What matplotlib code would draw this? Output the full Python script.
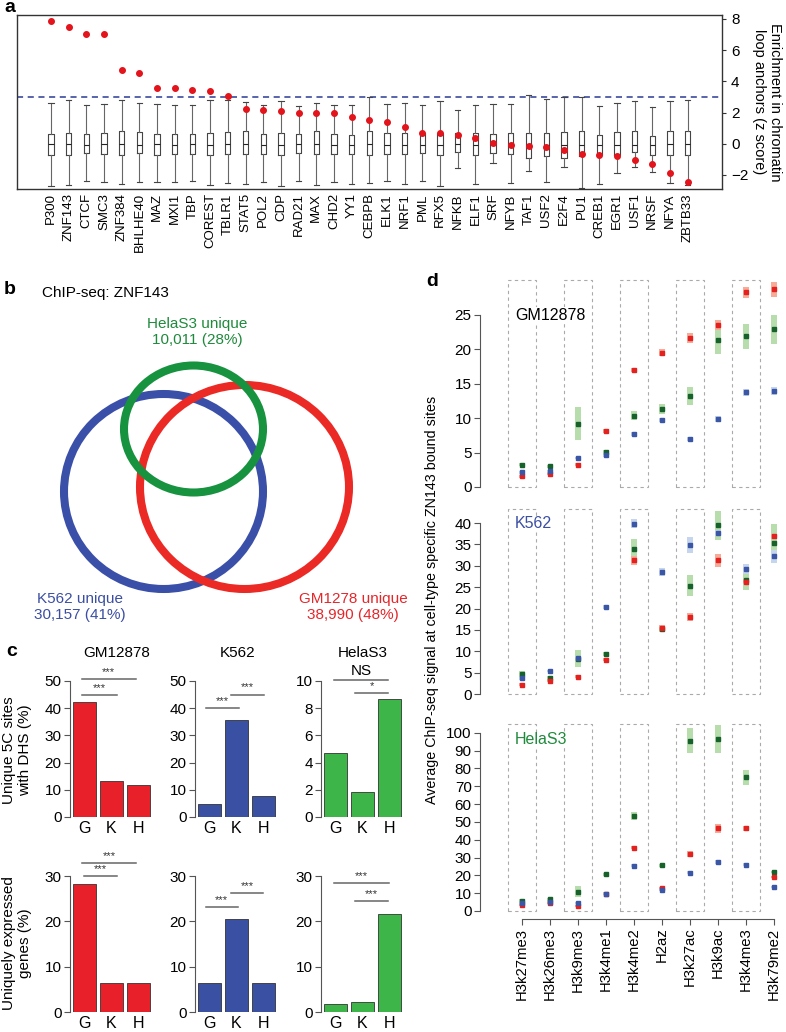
import matplotlib
matplotlib.use("Agg")
import matplotlib.pyplot as plt
from matplotlib.patches import Ellipse, Rectangle
import numpy as np

plt.rcParams['font.family'] = ['Liberation Sans', 'DejaVu Sans']

W, H = 786, 1032

# ---- panel a data: z scores + box stats per factor
factors = ["P300", "ZNF143", "CTCF", "SMC3", "ZNF384", "BHLHE40", "MAZ", "MXI1", "TBP",
           "COREST", "TBLR1", "STAT5", "POL2", "CDP", "RAD21", "MAX", "CHD2", "YY1",
           "CEBPB", "ELK1", "NRF1", "PML", "RFX5", "NFKB", "ELF1", "SRF", "NFYB", "TAF1",
           "USF2", "E2F4", "PU1", "CREB1", "EGR1", "USF1", "NRSF", "NFYA", "ZBTB33"]
zscore = [7.84, 7.48, 7.05, 7.02, 4.72, 4.51, 3.57, 3.55, 3.42, 3.37, 3.05, 2.2, 2.16,
          2.07, 2.0, 2.0, 1.96, 1.69, 1.52, 1.41, 1.05, 0.68, 0.68, 0.53, 0.38, 0.02,
          -0.1, -0.13, -0.23, -0.4, -0.66, -0.73, -0.79, -1.05, -1.32, -1.88, -2.48]
q1 = [-0.75, -0.73, -0.6, -0.66, -0.7, -0.6, -0.73, -0.66, -0.68, -0.75, -0.64, -0.66,
      -0.66, -0.73, -0.6, -0.64, -0.66, -0.66, -0.7, -0.66, -0.64, -0.62, -0.73, -0.51,
      -0.7, -0.6, -0.64, -0.92, -0.81, -0.92, -0.77, -0.73, -0.75, -0.56, -0.7, -0.7, -0.73]
q3 = [0.62, 0.68, 0.62, 0.68, 0.79, 0.73, 0.62, 0.62, 0.6, 0.68, 0.75, 0.79, 0.62, 0.68,
      0.62, 0.79, 0.62, 0.58, 0.79, 0.66, 0.68, 0.68, 0.68, 0.68, 0.68, 0.64, 0.68, 0.68,
      0.68, 0.77, 0.79, 0.56, 0.73, 0.83, 0.51, 0.79, 0.79]
med = [0.0, 0.0, -0.05, 0.0, 0.0, -0.05, 0.0, -0.05, 0.0, -0.05, 0.0, 0.0, -0.05, -0.05,
       0.0, 0.0, -0.05, -0.05, 0.0, -0.05, -0.05, -0.05, -0.1, 0.0, -0.1, 0.0, -0.05,
       -0.1, -0.05, -0.05, -0.1, -0.1, -0.05, -0.1, -0.1, 0.0, 0.0]
wlo = [-2.73, -2.67, -2.41, -2.48, -2.56, -2.48, -2.48, -2.44, -2.37, -2.63, -2.52, -2.59,
       -2.48, -2.69, -2.41, -2.63, -2.48, -2.56, -2.52, -2.41, -2.56, -2.41, -2.73, -1.56,
       -2.56, -1.24, -2.52, -1.77, -2.48, -1.5, -2.84, -2.56, -1.88, -1.5, -1.84, -2.52, -2.65]
whi = [2.63, 2.82, 2.46, 2.54, 2.82, 2.63, 2.54, 2.46, 2.46, 2.78, 2.82, 2.69, 2.46, 2.71,
       2.39, 2.63, 2.46, 2.46, 3.01, 2.54, 2.6, 2.5, 2.76, 2.16, 2.48, 2.54, 2.54, 3.14,
       2.88, 3.01, 3.01, 2.39, 2.6, 2.76, 2.35, 2.76, 2.82]
threshold = 3

# ---- panel b data
venn_names = ["HelaS3 unique", "K562 unique", "GM1278 unique"]
venn_counts = [10011, 30157, 38990]
venn_pcts = [28, 41, 48]

# ---- panel c data
cells = ["GM12878", "K562", "HelaS3"]
groups = ["G", "K", "H"]
dhs = [[42.1, 13.4, 11.9], [4.8, 35.8, 7.7], [4.68, 1.81, 8.68]]
expr = [[28.2, 6.5, 6.3], [6.3, 20.5, 6.5], [1.84, 2.28, 21.7]]
dhs_sig = [[(0, 2, "***"), (0, 1, "***")], [(0, 1, "***"), (1, 2, "***")],
           [(0, 2, "NS"), (1, 2, "*")]]
expr_sig = [[(0, 2, "***"), (0, 1, "***")], [(0, 1, "***"), (1, 2, "***")],
            [(0, 2, "***"), (1, 2, "***")]]

# ---- panel d data
marks = ["H3k27me3", "H3k26me3", "H3k9me3", "H3k4me1", "H3k4me2", "H2az",
         "H3k27ac", "H3k9ac", "H3k4me3", "H3k79me2"]
gm_red = [1.55, 1.9, 3.24, 8.12, 16.97, 19.49, 21.66, 23.5, 28.29, 28.72]
gm_blue = [2.13, 2.27, 4.2, 4.64, 7.69, 9.67, 6.96, 9.86, 13.78, 13.97]
gm_green = [3.24, 3.0, 9.19, 5.13, 10.35, 11.36, 13.2, 21.37, 21.86, 22.92]
gm_red_err = [0.2, 0.2, 0.2, 0.3, 0.3, 0.5, 0.75, 0.75, 0.8, 1.1]
gm_blue_err = [0.2, 0.2, 0.2, 0.3, 0.3, 0.3, 0.3, 0.4, 0.5, 0.6]
gm_green_err = [0.2, 0.2, 2.4, 0.3, 0.65, 0.75, 1.3, 2.0, 1.75, 2.1]

k_red = [2.18, 3.11, 4.05, 8.02, 31.28, 15.35, 18.05, 31.28, 26.3, 36.96]
k_blue = [3.66, 5.37, 8.4, 20.39, 39.84, 28.48, 34.94, 37.67, 29.26, 32.2]
k_green = [4.67, 3.74, 8.3, 9.42, 34.0, 15.2, 25.37, 39.45, 26.6, 35.4]
k_red_err = [0.3, 0.3, 0.3, 0.3, 1.1, 0.7, 0.9, 1.6, 0.6, 0.6]
k_blue_err = [0.3, 0.3, 0.3, 0.4, 1.1, 0.9, 1.9, 0.6, 1.1, 1.6]
k_green_err = [0.7, 0.4, 1.95, 0.5, 2.3, 0.7, 2.45, 3.3, 2.15, 4.5]

h_red = [3.4, 4.3, 3.0, 9.45, 35.5, 12.85, 31.8, 46.5, 46.3, 19.1]
h_blue = [4.3, 5.3, 4.3, 9.8, 25.5, 11.9, 21.55, 27.4, 25.9, 13.6]
h_green = [5.67, 6.6, 10.8, 20.6, 53.1, 25.7, 95.6, 96.5, 74.9, 21.9]
h_red_err = [0.5, 0.5, 0.5, 0.6, 1.0, 0.8, 1.7, 2.5, 1.5, 0.8]
h_blue_err = [0.5, 0.5, 0.5, 0.6, 0.8, 0.6, 0.8, 1.2, 0.8, 0.6]
h_green_err = [0.8, 0.8, 3.0, 0.8, 2.3, 0.8, 6.9, 8.0, 4.3, 0.8]

RED, BLUE, GREEN = "#e8202a", "#3a51a3", "#3db549"
TXT_GREEN = "#1f8a3c"


def px_axes(fig, x0, y0, x1, y1):
    # axes placed by pixel box (top-left origin)
    return fig.add_axes([x0 / W, 1 - y1 / H, (x1 - x0) / W, (y1 - y0) / H])


def ftext(fig, x, y, s, **kw):
    fig.text(x / W, 1 - y / H, s, **kw)


fig = plt.figure(figsize=(W / 100, H / 100), dpi=100)

# ================= panel a
ax = px_axes(fig, 17, 15, 722, 189)
stats = [dict(med=med[i], q1=q1[i], q3=q3[i], whislo=wlo[i], whishi=whi[i], fliers=[])
         for i in range(len(factors))]
pos = np.arange(len(factors))
ax.bxp(stats, positions=pos, widths=0.3, capwidths=0.3, showfliers=False,
       boxprops=dict(color="#444444", lw=0.8), whiskerprops=dict(color="#666666", lw=0.8),
       capprops=dict(color="#444444", lw=0.8), medianprops=dict(color="#222222", lw=0.8))
ax.axhline(threshold, color="#2a3a96", lw=1.1, ls=(0, (4, 3)), zorder=1)
ax.plot(pos, zscore, "o", color="#e3141b", ms=4, zorder=5)
ax.set_xlim(-1.92, 37.94)
ax.set_ylim(-2.9, 8.25)
ax.set_xticks(pos)
ax.set_xticklabels(factors, rotation=90, fontsize=9.5)
ax.tick_params(axis="x", length=0, pad=3)
ax.yaxis.tick_right()
ax.yaxis.set_label_position("right")
ax.set_yticks([-2, 0, 2, 4, 6, 8])
ax.tick_params(axis="y", labelsize=11, length=3, color="#333333")
ax.set_ylabel("Enrichment in chromatin\nloop anchors (z score)", rotation=270,
              fontsize=10.5, labelpad=24)
for s in ax.spines.values():
    s.set_color("#333333")
    s.set_linewidth(1)

# ================= panel b
axb = px_axes(fig, 0, 280, 410, 640)
axb.set_xlim(0, 410)
axb.set_ylim(640, 280)
axb.axis("off")
axb.add_patch(Ellipse((163.5, 491.5), 199, 195, fill=False, ec="#3a4fa8", lw=5.8))
axb.add_patch(Ellipse((244.5, 487), 209, 204, fill=False, ec="#ec2a25", lw=5.8))
axb.add_patch(Ellipse((193.5, 429), 139, 127, fill=False, ec="#17923f", lw=5.8))
venn_colors = [TXT_GREEN, "#3b4ea3", "#e5262a"]
venn_xy = [(197, 332), (80, 607), (353, 607)]
for name, n, p, c, (x, y) in zip(venn_names, venn_counts, venn_pcts, venn_colors, venn_xy):
    ftext(fig, x, y, f"{name}\n{n:,} ({p}%)", color=c, fontsize=11,
          ha="center", va="center", linespacing=1.15)
ftext(fig, 42, 293, "ChIP-seq: ZNF143", fontsize=11, va="center")

# ================= panel c
bar_colors = [RED, BLUE, GREEN]
col_left = [70, 195, 321]
title_x = [117, 238, 363]
rows = [(dhs, dhs_sig, 681, 817, [50, 50, 10]), (expr, expr_sig, 876, 1012, [30, 30, 30])]
# bracket layout per panel: (x0, x1, height as fraction of ylim top)
brackets = [
    [[(-0.1, 1.9, 1.012), (-0.1, 1.21, 0.894)],
     [(-0.15, 1.09, 0.80), (0.79, 2.02, 0.90)],
     [(-0.04, 1.96, 1.01), (0.71, 1.96, 0.91)]],
    [[(-0.09, 1.91, 1.093), (-0.02, 1.21, 1.0)],
     [(-0.15, 1.06, 0.773), (0.79, 1.99, 0.873)],
     [(-0.04, 1.98, 0.95), (0.71, 1.96, 0.813)]],
]
for r, (vals, sigs, top, bot, ymax) in enumerate(rows):
    for c in range(3):
        axc = px_axes(fig, col_left[c], top, col_left[c] + 82, bot)
        axc.bar(range(3), vals[c], width=0.84, color=bar_colors[c], ec="#333333", lw=0.6)
        axc.set_xlim(-0.54, 2.5)
        axc.set_ylim(0, ymax[c])
        step = 2 if ymax[c] == 10 else 10
        axc.set_yticks(np.arange(0, ymax[c] + 0.1, step))
        axc.set_xticks(range(3))
        axc.set_xticklabels(groups, fontsize=11.5)
        axc.tick_params(axis="x", length=0, pad=3)
        axc.tick_params(axis="y", labelsize=11, length=4, pad=2, color="#555555")
        for s in ["top", "right", "bottom"]:
            axc.spines[s].set_visible(False)
        axc.spines["left"].set_color("#555555")
        for (i, j, lab), (x0, x1, fh) in zip(sigs[c], brackets[r][c]):
            yb = fh * ymax[c]
            axc.plot([x0, x1], [yb, yb], color="#666666", lw=1.1, clip_on=False)
            fs = 11 if lab == "NS" else 8
            axc.text((x0 + x1) / 2, yb + ymax[c] * 0.015, lab, ha="center", va="bottom",
                     fontsize=fs, color="#333333" if lab != "NS" else "black", clip_on=False)
        if r == 0:
            ftext(fig, title_x[c], 653, cells[c], fontsize=11, ha="center", va="center")
ftext(fig, 17, 750, "Unique 5C sites\nwith DHS (%)", fontsize=11, rotation=90,
      ha="center", va="center", multialignment="center")
ftext(fig, 17, 943, "Uniquely expressed\ngenes (%)", fontsize=11, rotation=90,
      ha="center", va="center", multialignment="center")

# ================= panel d
panels_d = [
    ("GM12878", "black", (277, 487), 30.5, 25, 5, 30,
     (gm_red, gm_red_err), (gm_blue, gm_blue_err), (gm_green, gm_green_err)),
    ("K562", "#3b4ea3", (506, 694), 44, 40, 5, 43.4,
     (k_red, k_red_err), (k_blue, k_blue_err), (k_green, k_green_err)),
    ("HelaS3", TXT_GREEN, (722, 911), 106, 100, 10, 105,
     (h_red, h_red_err), (h_blue, h_blue_err), (h_green, h_green_err)),
]
xm = np.arange(len(marks))
for k, (lab, lc, (t, b), ytop, ymaxtick, ystep, boxtop, red, blue, green) in enumerate(panels_d):
    axd = px_axes(fig, 480, t, 786, b)
    axd.set_xlim(-1.5, 9.43)
    axd.set_ylim(0, ytop)
    for i in range(0, len(marks), 2):
        axd.add_patch(Rectangle((i - 0.5, 0), 1, boxtop, fill=False, ec="#aaaaaa",
                                lw=0.8, ls=(0, (3, 3)), clip_on=False, zorder=1))
    series = [(green, "#b7ddad", "#17612b"), (red, "#f7ab98", "#e3211f"),
              (blue, "#c6d5ee", "#3a56a5")]
    for (v, e), bg, _ in series:
        v, e = np.array(v), np.array(e)
        axd.bar(xm, 2 * e, bottom=v - e, width=0.24, color=bg, lw=0, zorder=2)
    for (v, e), _, fg in series:
        axd.plot(xm, v, "s", color=fg, ms=3.3, zorder=3)
    axd.set_yticks(np.arange(0, ymaxtick + 0.1, ystep))
    axd.spines["left"].set_bounds(0, ymaxtick)
    axd.spines["left"].set_color("#555555")
    for s in ["top", "right"]:
        axd.spines[s].set_visible(False)
    axd.tick_params(axis="y", labelsize=11, length=4, pad=2, color="#555555")
    if k < 2:
        axd.spines["bottom"].set_visible(False)
        axd.set_xticks([])
    else:
        axd.spines["bottom"].set_bounds(0, len(marks) - 1)
        axd.spines["bottom"].set_position(("outward", 6))
        axd.spines["bottom"].set_color("#555555")
        axd.set_xticks(xm)
        axd.set_xticklabels(marks, rotation=90, fontsize=10.75)
        axd.tick_params(axis="x", length=4, color="#555555", pad=2)
    ftext(fig, 515, [315, 524, 740][k], lab, color=lc, fontsize=11.5, va="center",
          bbox=dict(facecolor="white", edgecolor="none", pad=0.5))
ftext(fig, 432, 600, "Average ChIP-seq signal at cell-type specific ZN143 bound sites",
      fontsize=10.25, rotation=90, ha="center", va="center")

# panel letters
for letter, (x, y) in zip("abcd", [(4, 8), (4, 290), (6, 652), (426, 282)]):
    ftext(fig, x, y, letter, fontsize=14, fontweight="bold", va="center")

fig.savefig("out.png", dpi=100)
